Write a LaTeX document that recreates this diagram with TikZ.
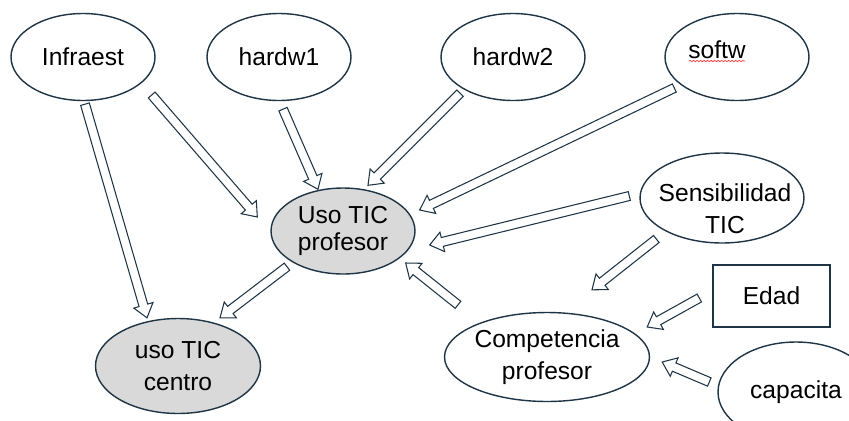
\documentclass[tikz,border=0pt]{standalone}
\usepackage{fontspec}
\setmainfont{Liberation Sans}
\usetikzlibrary{shapes,arrows,positioning,calc,decorations.pathmorphing}
\definecolor{edge}{HTML}{1F3545}
\definecolor{shade}{HTML}{D9D9D9}
\tikzstyle{var} = [ellipse, draw=edge, line width=0.8pt, inner sep=0pt, align=center, font=\fontsize{14}{18}\selectfont]
\tikzstyle{gvar} = [var, fill=shade]
\tikzstyle{obs} = [rectangle, draw=edge, line width=0.8pt, inner sep=0pt, font=\fontsize{14}{18}\selectfont]
\tikzstyle{txt} = [inner sep=0pt, align=center, font=\fontsize{14}{18}\selectfont]
\tikzstyle{squig} = [draw=red!80, line width=0.4pt, decorate, decoration={snake, amplitude=0.35pt, segment length=2pt}]
\tikzstyle{hollow} = [draw=edge, fill=white, line width=0.6pt, line join=miter, to path={
  (\tikztostart) coordinate (ha-a) (\tikztotarget) coordinate (ha-b)
  ($(ha-b)!0.26cm!(ha-a)$) coordinate (ha-h)
  ($(ha-a)!0.09cm!90:(ha-b)$) -- ($(ha-h)!0.09cm!-90:(ha-a)$) -- ($(ha-h)!0.2cm!-90:(ha-a)$)
  -- (ha-b) -- ($(ha-h)!0.2cm!90:(ha-a)$) -- ($(ha-h)!0.09cm!90:(ha-a)$)
  -- ($(ha-a)!0.09cm!-90:(ha-b)$) -- cycle}]

\begin{document}
\begin{tikzpicture}[x=0.02cm, y=-0.02cm]
			\useasboundingbox (0,0) rectangle (849,420);
			\clip (0,0) rectangle (849,420);

			\node [var, minimum width=2.88cm, minimum height=1.74cm] (inf) at (83,57) {Infraest};
			\node [var, minimum width=2.88cm, minimum height=1.74cm] (hw1) at (279,57) {hardw1};
			\node [var, minimum width=2.88cm, minimum height=1.74cm] (hw2) at (513,57) {hardw2};
			\node [var, minimum width=2.88cm, minimum height=1.74cm] (sof) at (737,57) {};
			\node [txt, anchor=base] (softxt) at (717,58) {softw};
			\draw [squig] ([shift={(1,3)}]softxt.base west) -- ([shift={(-1,3)}]softxt.base east);
			\node [var, minimum width=3.28cm, minimum height=1.80cm] (sen) at (722,198) {};
			\node [txt] (sentxt) at (725,209) {Sensibilidad\\TIC};
			\node [obs, minimum width=2.34cm, minimum height=1.24cm] (edad) at (771.5,296) {Edad};
			\node [var, minimum width=3.56cm, minimum height=1.78cm] (comp) at (547,357) {Competencia\\profesor};
			\node [var, minimum width=3.12cm, minimum height=2.0cm] (cap) at (796,392) {capacita};
			\node [gvar, minimum width=2.88cm, minimum height=1.72cm, font=\fontsize{14}{15.5}\selectfont] (pro) at (343,231) {Uso TIC\\profesor};
			\node [gvar, minimum width=3.3cm, minimum height=1.9cm] (cen) at (178,366) {uso TIC\\centro};

			% block arrows
			\path [hollow] ([shift={(2,3)}]inf.south) to ([shift={(-31,0)}]cen.north);
			\path [hollow] ([shift={(-4,38)}]inf.east) to ([shift={(-13,-14)}]pro.west);
			\path [hollow] ([shift={(4,8)}]hw1.south) to ([shift={(-25,2)}]pro.north);
			\path [hollow] ([shift={(-53,-8)}]hw2.south) to ([shift={(25,-2)}]pro.north);
			\path [hollow] ([shift={(10,31)}]sof.west) to ([shift={(4,-21)}]pro.east);
			\path [hollow] ([shift={(-10,-2)}]sen.west) to ([shift={(14,14)}]pro.east);
			\path [hollow] ([shift={(17,41)}]sen.west) to ([shift={(45,-22)}]comp.north);
			\path [hollow] ([shift={(-89,-7)}]comp.north) to ([shift={(-10,32)}]pro.east);
			\path [hollow] ([shift={(-56,-8)}]pro.south) to ([shift={(42,0)}]cen.north);
			\path [hollow] ([shift={(-13,2)}]edad.west) to ([shift={(-3,-30)}]comp.east);
			\path [hollow] ([shift={(-8,-10)}]cap.west) to ([shift={(12,5)}]comp.east);
		\end{tikzpicture}
\end{document}
